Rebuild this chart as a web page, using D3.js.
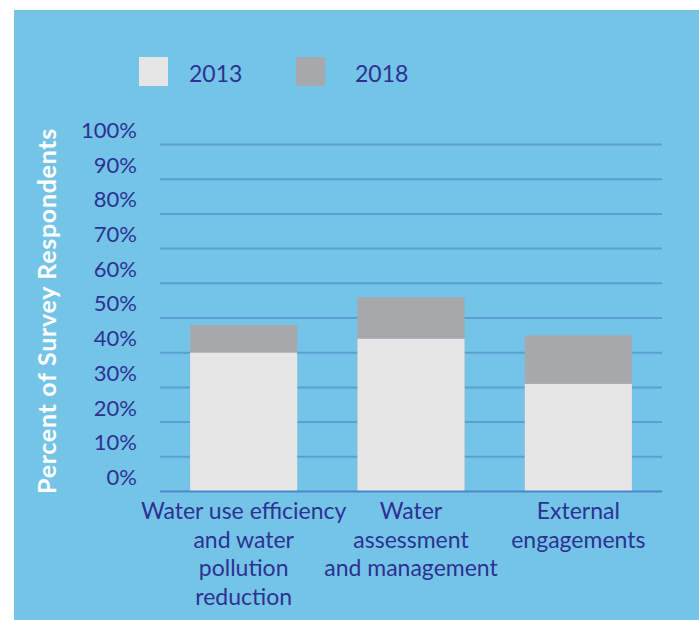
<!DOCTYPE html>
<html>
<head>
<meta charset="utf-8">
<script src="https://cdn.jsdelivr.net/npm/d3@7"></script>
<style>
  html, body { margin: 0; padding: 0; background: #ffffff; }
  svg { display: block; }
  text { font-family: Lato, "Open Sans", sans-serif; }
</style>
</head>
<body>
<svg id="chart" width="699" height="620"></svg>
<script>
// Survey data: share of respondents per focus area
const categories = [
  ["Water use efficiency", "and water", "pollution", "reduction"],
  ["Water", "assessment", "and management"],
  ["External", "engagements"]
];
const years = ["2013", "2018"];
const values2013 = [40, 44, 31];
const values2018 = [48, 56, 45];
const yTicks = [0, 10, 20, 30, 40, 50, 60, 70, 80, 90, 100];

const colors = { "2013": "#e6e6e6", "2018": "#a7a8ab" };
const textColor = "#2e3192";

const svg = d3.select("#chart");

// blue panel
svg.append("rect")
  .attr("x", 14).attr("y", 10)
  .attr("width", 685).attr("height", 610)
  .attr("fill", "#74c4e8");

const plot = { left: 160, right: 662, top: 144.5, bottom: 491.5 };

const x = d3.scaleBand()
  .domain(d3.range(categories.length))
  .range([plot.left, plot.right])
  .paddingInner(0.36)
  .paddingOuter(0.18);

const y = d3.scaleLinear()
  .domain([0, 100])
  .range([plot.bottom, plot.top]);

// gridlines
svg.append("g")
  .selectAll("line")
  .data(yTicks.filter(d => d > 0))
  .join("line")
  .attr("x1", plot.left).attr("x2", plot.right)
  .attr("y1", d => y(d)).attr("y2", d => y(d))
  .attr("stroke", "#5a9fd2")
  .attr("stroke-width", 2);

// y-axis tick labels, set slightly above their gridlines
const yAxis = d3.axisLeft(y)
  .tickValues(yTicks)
  .tickSize(0)
  .tickPadding(0)
  .tickFormat(d => d + "%");

svg.append("g")
  .attr("transform", "translate(137,-15)")
  .call(yAxis)
  .call(g => g.select(".domain").remove())
  .call(g => g.selectAll("text")
    .attr("fill", textColor)
    .attr("font-size", 22)
    .attr("dy", "0.36em")
    .style("font-family", "Lato, sans-serif"));

// 2018 bars (behind), 2013 bars (front)
svg.append("g")
  .selectAll("rect")
  .data(values2018)
  .join("rect")
  .attr("x", (d, i) => x(i))
  .attr("width", x.bandwidth())
  .attr("y", d => y(d))
  .attr("height", d => y(0) - y(d))
  .attr("fill", colors["2018"]);

svg.append("g")
  .selectAll("rect")
  .data(values2013)
  .join("rect")
  .attr("x", (d, i) => x(i))
  .attr("width", x.bandwidth())
  .attr("y", d => y(d))
  .attr("height", d => y(0) - y(d))
  .attr("fill", colors["2013"]);

// baseline
svg.append("line")
  .attr("x1", plot.left).attr("x2", plot.right)
  .attr("y1", y(0)).attr("y2", y(0))
  .attr("stroke", "#4d86c9")
  .attr("stroke-width", 2);

// category labels
const catG = svg.append("g");
categories.forEach((lines, i) => {
  const cx = x(i) + x.bandwidth() / 2;
  const t = catG.append("text")
    .attr("text-anchor", "middle")
    .attr("fill", textColor)
    .attr("font-size", 23)
    .attr("x", cx)
    .attr("y", 519);
  lines.forEach((line, j) => {
    t.append("tspan")
      .attr("x", cx)
      .attr("dy", j === 0 ? 0 : 28.5)
      .text(line);
  });
});

// y-axis title
svg.append("text")
  .attr("transform", "translate(56,311) rotate(-90)")
  .attr("text-anchor", "middle")
  .attr("fill", "#ffffff")
  .attr("font-weight", "bold")
  .attr("font-size", 25)
  .attr("letter-spacing", 0.7)
  .text("Percent of Survey Respondents");

// legend
const legendSwatchX = [139, 296];
const legendTextX = [189, 355];
const legend = svg.append("g");
years.forEach((yr, i) => {
  legend.append("rect")
    .attr("x", legendSwatchX[i]).attr("y", 57)
    .attr("width", 29).attr("height", 29)
    .attr("fill", colors[yr]);
  legend.append("text")
    .attr("x", legendTextX[i]).attr("y", 81.5)
    .attr("fill", textColor)
    .attr("font-size", 23)
    .text(yr);
});
</script>
</body>
</html>
